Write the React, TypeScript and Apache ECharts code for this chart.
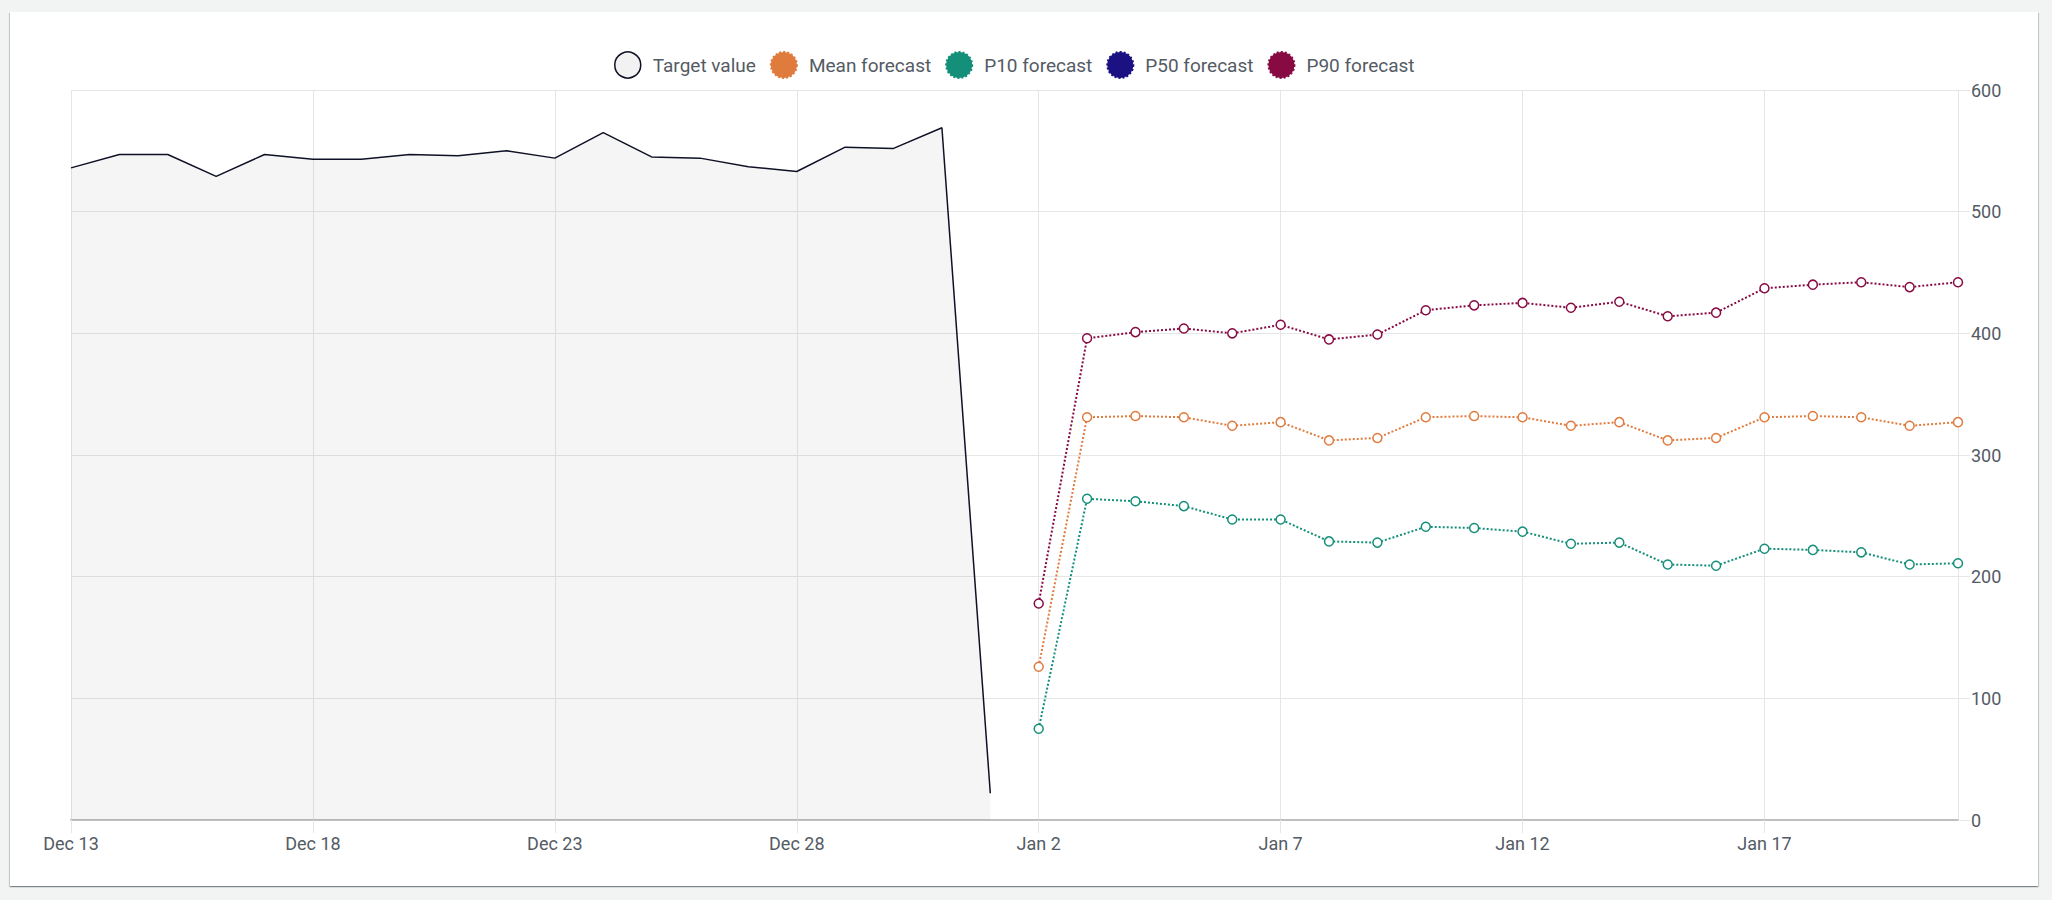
import React, { useEffect, useRef } from "react";
import * as echarts from "echarts";

const categories: string[] = [
  "Dec 13", "Dec 14", "Dec 15", "Dec 16", "Dec 17", "Dec 18", "Dec 19", "Dec 20",
  "Dec 21", "Dec 22", "Dec 23", "Dec 24", "Dec 25", "Dec 26", "Dec 27", "Dec 28",
  "Dec 29", "Dec 30", "Dec 31", "Jan 1", "Jan 2", "Jan 3", "Jan 4", "Jan 5",
  "Jan 6", "Jan 7", "Jan 8", "Jan 9", "Jan 10", "Jan 11", "Jan 12", "Jan 13",
  "Jan 14", "Jan 15", "Jan 16", "Jan 17", "Jan 18", "Jan 19", "Jan 20", "Jan 21",
];

// Dec 13 .. Jan 1
const targetValues: number[] = [
  536, 547, 547, 529, 547, 543, 543, 547, 546, 550,
  544, 565, 545, 544, 537, 533, 553, 552, 569, 22,
];

// Jan 2 .. Jan 21
const meanForecast: number[] = [
  126, 331, 332, 331, 324, 327, 312, 314, 331, 332,
  331, 324, 327, 312, 314, 331, 332, 331, 324, 327,
];
const p10Forecast: number[] = [
  75, 264, 262, 258, 247, 247, 229, 228, 241, 240,
  237, 227, 228, 210, 209, 223, 222, 220, 210, 211,
];
const p50Forecast: number[] = [];
const p90Forecast: number[] = [
  178, 396, 401, 404, 400, 407, 395, 399, 419, 423,
  425, 421, 426, 414, 417, 437, 440, 442, 438, 442,
];

const yTicks = { min: 0, max: 600, interval: 100 };

const COLORS = {
  target: "#0f1126",
  mean: "#e07b3e",
  p10: "#148f79",
  p50: "#1b1182",
  p90: "#870a43",
};

const FONT = "Roboto, 'Open Sans', sans-serif";
const TEXT = "#545b64";
const GRID = "#e6e6e6";

const pad = (arr: (number | null)[], before: number, total: number) => {
  const out: (number | null)[] = new Array(before).fill(null).concat(arr);
  while (out.length < total) out.push(null);
  return out;
};

export default function App() {
  const ref = useRef<HTMLDivElement>(null);

  useEffect(() => {
    if (!ref.current) return;
    const chart = echarts.init(ref.current, undefined, { renderer: "svg" });
    const n = categories.length;
    const forecastStart = targetValues.length;

    const forecastSeries = (name: string, color: string, values: number[]) => ({
      name,
      type: "line",
      data: values.length ? pad(values, forecastStart, n) : [],
      symbol: "circle",
      symbolSize: 9,
      showAllSymbol: true,
      connectNulls: false,
      itemStyle: { color: "#ffffff", borderColor: color, borderWidth: 1.5 },
      lineStyle: { color, width: 2, type: "dotted" },
      emphasis: { disabled: true },
      z: 3,
    });

    const legendItem = (name: string, color: string) => ({
      name,
      icon: "circle",
      itemStyle: { color, borderColor: color, borderWidth: 2, borderType: "dotted" },
    });

    chart.setOption({
      animation: false,
      textStyle: { fontFamily: FONT },
      legend: {
        top: 34,
        left: 599,
        itemWidth: 26,
        itemHeight: 26,
        itemGap: 14,
        textStyle: { fontSize: 19, color: TEXT, fontFamily: FONT, padding: [0, 0, 0, 7] },
        data: [
          {
            name: "Target value",
            icon: "circle",
            itemStyle: { color: "#f2f2f2", borderColor: COLORS.target, borderWidth: 1.5 },
          },
          legendItem("Mean forecast", COLORS.mean),
          legendItem("P10 forecast", COLORS.p10),
          legendItem("P50 forecast", COLORS.p50),
          legendItem("P90 forecast", COLORS.p90),
        ],
      },
      grid: { left: 61, right: 80, top: 78, bottom: 66, containLabel: false },
      xAxis: {
        type: "category",
        data: categories,
        boundaryGap: false,
        axisLine: { show: true, lineStyle: { color: "#bfbfbf", width: 2 } },
        axisTick: { show: true, interval: 4, length: 13, lineStyle: { color: GRID } },
        splitLine: { show: true, interval: 4, lineStyle: { color: GRID } },
        axisLabel: { interval: 4, margin: 14, fontSize: 18, color: TEXT, fontFamily: FONT },
      },
      yAxis: {
        type: "value",
        position: "right",
        min: yTicks.min,
        max: yTicks.max,
        interval: yTicks.interval,
        axisLine: { show: true, lineStyle: { color: GRID } },
        axisTick: { show: true, length: 12, lineStyle: { color: GRID } },
        splitLine: { show: true, lineStyle: { color: GRID } },
        axisLabel: { margin: 13, fontSize: 18, color: TEXT, fontFamily: FONT },
      },
      series: [
        {
          name: "Target value",
          type: "line",
          data: pad(targetValues, 0, n),
          symbol: "none",
          lineStyle: { color: COLORS.target, width: 1.5 },
          itemStyle: { color: COLORS.target },
          areaStyle: { color: "rgba(22,25,31,0.06)", origin: "start" },
          emphasis: { disabled: true },
          z: 2,
        },
        forecastSeries("Mean forecast", COLORS.mean, meanForecast),
        forecastSeries("P10 forecast", COLORS.p10, p10Forecast),
        forecastSeries("P50 forecast", COLORS.p50, p50Forecast),
        forecastSeries("P90 forecast", COLORS.p90, p90Forecast),
      ],
    });
    return () => chart.dispose();
  }, []);

  return (
    <div style={{ position: "fixed", inset: 0, background: "#f2f3f3" }}>
      <div
        style={{
          position: "absolute",
          left: 10,
          top: 12,
          width: 2028,
          height: 874,
          background: "#ffffff",
          boxShadow:
            "0 1px 1px 0 rgba(0,28,36,0.3), 1px 1px 1px 0 rgba(0,28,36,0.15), -1px 1px 1px 0 rgba(0,28,36,0.15)",
        }}
      >
        <div ref={ref} style={{ width: 2028, height: 874 }} />
      </div>
    </div>
  );
}
